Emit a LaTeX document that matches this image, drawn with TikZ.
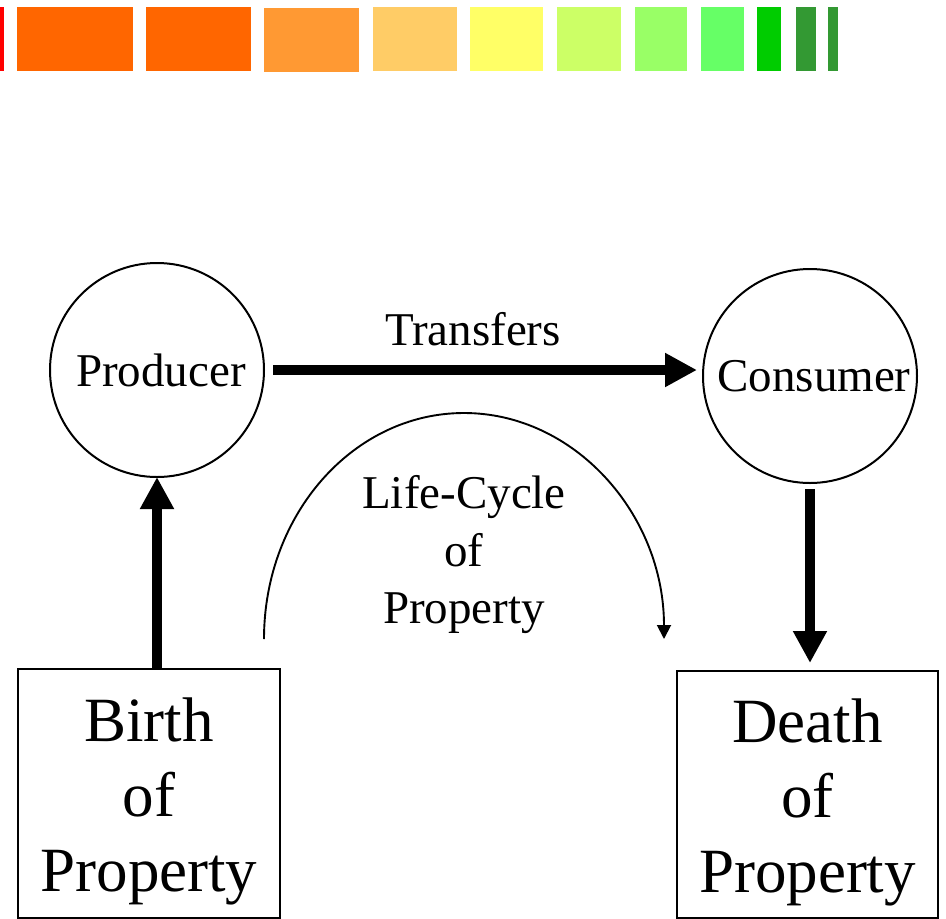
\documentclass[tikz,border=0pt]{standalone}
\usepackage{fontspec}
\setmainfont{Liberation Serif}
\usetikzlibrary{arrows.meta}

\definecolor{barred}{HTML}{FF0000}
\definecolor{barorange}{HTML}{FF6600}
\definecolor{barlightorange}{HTML}{FF9933}
\definecolor{barsand}{HTML}{FFCC66}
\definecolor{baryellow}{HTML}{FFFF66}
\definecolor{barlime}{HTML}{CCFF66}
\definecolor{barlightgreen}{HTML}{99FF66}
\definecolor{barmint}{HTML}{66FF66}
\definecolor{bargreen}{HTML}{00CC00}
\definecolor{bardarkgreen}{HTML}{339933}

\begin{document}
\begin{tikzpicture}[x=1pt, y=-1pt, outer sep=0,
    lifecircle/.style={draw, circle, line width=2pt, minimum size=214pt, inner sep=0, font=\fontsize{47}{57}\selectfont},
    propbox/.style={draw, rectangle, line width=2pt, minimum width=262pt, minimum height=249pt},
    boxtext/.style={align=center, inner sep=0, font=\fontsize{63}{75}\selectfont},
    smalltext/.style={align=center, inner sep=0, font=\fontsize{47}{57.5}\selectfont},
    bigarrow/.style={line width=10pt, -{Triangle[length=32pt, width=32pt]}},
    thinarrow/.style={line width=1.9pt, -{Triangle[length=14pt, width=14pt]}}]
        \useasboundingbox (0,0) rectangle (946,919);
        % colour strip
        \fill[barred] (0,7) rectangle (4,71);
        \fill[barorange] (17,7) rectangle (133,71);
        \fill[barorange] (146,7) rectangle (251,71);
        \fill[barlightorange] (264,8) rectangle (359,72);
        \fill[barsand] (373,7) rectangle (457,71);
        \fill[baryellow] (470,7) rectangle (543,71);
        \fill[barlime] (557,7) rectangle (621,71);
        \fill[barlightgreen] (635,7) rectangle (687,71);
        \fill[barmint] (701,7) rectangle (744,71);
        \fill[bargreen] (757,7) rectangle (781,71);
        \fill[bardarkgreen] (796,7) rectangle (816,71);
        \fill[bardarkgreen] (828,7) rectangle (838,71);
        % producer and consumer
        \node [lifecircle] (prod) at (157,370) {\hspace*{8pt}Producer};
        \node [lifecircle] (cons) at (810,376) {\hspace*{8pt}Consumer};
        \draw[bigarrow, shorten <=9pt, shorten >=6pt] (prod.east) -- (prod.east -| cons.west)
            node [pos=0.476, above=24pt, smalltext] (trlabel) {Transfers};
        % birth and death boxes
        \node [propbox] (birth) at (149,793.5) {};
        \node [boxtext] (birthtext) at (149,801) {Birth\\of\\Property};
        \node [propbox, minimum width=261pt, minimum height=247pt] (death) at (807.5,794.5) {};
        \node [boxtext] (deathtext) at (807.5,802) {Death\\of\\Property};
        \draw[bigarrow] (prod.south |- birth.north) -- (prod.south);
        \draw[bigarrow, shorten <=6pt, shorten >=8pt] (cons.south) -- (cons.south |- death.north);
        % life-cycle arc
        \coordinate (cycstart) at (264,639);
        \draw[thinarrow] (cycstart) arc [start angle=180, end angle=360, x radius=200, y radius=226];
        \node [smalltext] (cyclabel) at (464,555) {Life-Cycle\\of\\Property};
\end{tikzpicture}
\end{document}
